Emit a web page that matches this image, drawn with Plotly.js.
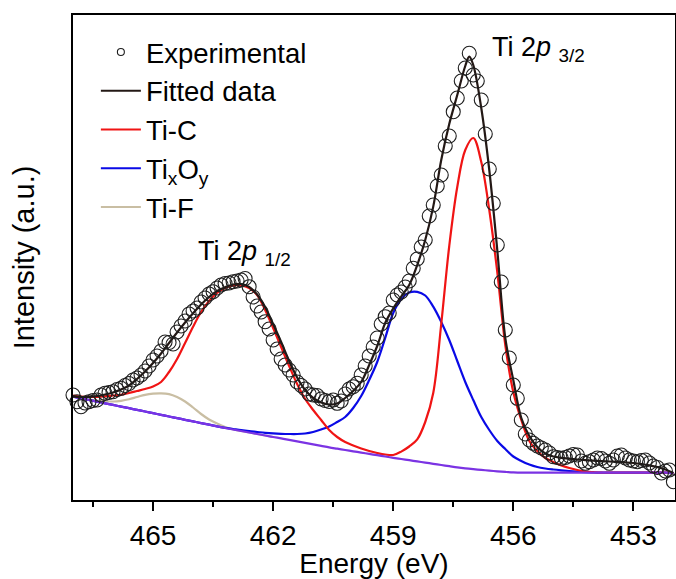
<!DOCTYPE html>
<html>
<head>
<meta charset="utf-8">
<script src="https://cdn.plot.ly/plotly-3.0.1.min.js"></script>
<style>html,body{margin:0;padding:0;background:#fff;}#chart{width:676px;height:579px;}</style>
</head>
<body>
<div id="chart"></div>
<script>
// Binding energy grid for fitted components (eV)
const energy = [467.0,466.8,466.6,466.4,466.2,466.0,465.8,465.6,465.4,465.2,
465.0,464.8,464.6,464.4,464.2,464.0,463.8,463.6,463.4,463.2,
463.0,462.8,462.6,462.4,462.2,462.0,461.8,461.6,461.4,461.2,
461.0,460.8,460.6,460.4,460.2,460.0,459.8,459.6,459.4,459.2,
459.0,458.8,458.6,458.4,458.2,458.0,457.8,457.6,457.4,457.2,
457.0,456.8,456.6,456.4,456.2,456.0,455.8,455.6,455.4,455.2,
455.0,454.8,454.6,454.4,454.2,454.0,453.8,453.6,453.4,453.2,
453.0,452.8,452.6,452.4,452.2,452.0];

// Shirley-type background (a.u.)
const background = [103.3,101.6,100.0,98.4,96.7,95.1,93.4,91.8,90.1,88.5,
86.8,85.2,83.5,81.9,80.2,78.6,76.9,75.3,73.6,72.0,
70.5,69.0,67.5,66.0,64.5,63.0,61.6,60.1,58.6,57.1,
55.6,54.1,52.6,51.3,50.0,48.7,47.4,46.1,44.8,43.5,
42.2,41.0,39.8,38.6,37.4,36.2,35.0,33.8,32.6,31.6,
30.8,30.1,29.4,28.7,28.1,27.6,27.3,27.3,27.3,27.3,
27.3,27.3,27.3,27.3,27.3,27.3,27.3,27.3,27.3,27.3,
27.3,27.3,27.3,27.3,27.3,26.8];

// Ti-C component (incl. background)
const tiC = [104.5,103.5,103.2,103.2,103.7,104.5,105.2,107.0,109.0,111.0,
113.5,118,128,141,157,173.3,188,199,207,212,
214.5,214.7,212,205,190,172,153,134,116,101,
90,80,70,63,58,54.5,51.5,49,47,45.5,
45,48.4,53.5,60.6,78,107,176,254,313,350,
362,338,290,228,155,108,80,59,49,42,
38,34.5,32,30,28.5,27.8,27.3,27.3,27.3,27.3,
27.3,27.3,27.3,27.3,27.3,26.8];

// TixOy component (incl. background)
const tixOy = [103.3,101.6,100.0,98.4,96.7,95.1,93.4,91.8,90.1,88.5,
86.8,85.2,83.5,81.9,80.2,78.6,76.9,75.3,73.6,72.2,
71.0,69.8,68.8,68.0,67.2,66.6,66.2,66.0,66.0,66.5,
68.0,70.5,73.5,78,83,92,104,120,138,162,
187,201,207.5,208.2,204.5,193.3,178,160,139,118,
100,83,70,59,51,43.5,39,35.5,33,31.5,
30.5,29.7,29,28.4,27.9,27.5,27.3,27.3,27.3,27.3,
27.3,27.3,27.3,27.3,27.3,26.8];

// Ti-F component (incl. background)
const tiFEnergy = [467.0,466.8,466.6,466.4,466.2,466.0,465.8,465.6,465.4,465.2,
465.0,464.8,464.6,464.4,464.2,464.0,463.8,463.6,463.4,463.2,
463.0,462.8,462.6,462.4,462.2,462.0];
const tiF = [103.3,101.8,100.4,99.4,98.7,98.5,99.2,100.7,103,105.2,
106.4,106.7,105.9,103,98.5,92.5,86,80.5,76.4,73,
70.6,69.0,67.5,66.0,64.5,63.0];

// Fitted envelope
const fitEnergy = [467.0,466.8,466.6,466.4,466.2,466.0,465.8,465.6,465.4,465.2,
465.0,464.8,464.6,464.4,464.2,464.0,463.8,463.6,463.4,463.2,
463.0,462.8,462.6,462.4,462.2,462.0,461.8,461.6,461.4,461.2,
461.0,460.8,460.6,460.4,460.2,460.0,459.8,459.6,459.4,459.2,
459.0,458.8,458.6,458.4,458.2,458.0,457.8,457.6,457.4,457.2,457.1,
457.0,456.8,456.6,456.4,456.2,456.0,455.8,455.6,455.4,455.2,
455.0,454.8,454.6,454.4,454.2,454.0,453.8,453.6,453.4,453.2,
453.0,452.8,452.6,452.4,452.2,452.0];
const fitted = [103.3,103.0,103.2,104.0,105.5,107.5,110.5,114.5,121.0,128.5,
137.0,146.5,157,167.5,177.5,186.7,195.5,203,209,212.8,
215.5,216.0,213,205.5,193,176,158,139,122.5,110,
102,97.5,95.5,96.5,102,109,118,135,154,177,
191.5,203.5,215,235,260,293.4,340,376,405,434,443.3,
435,392,330,250,162,120,82,64,53,46.5,
43.5,42.2,41.4,40.5,39.8,39.3,38.9,38.5,38.1,37.6,
37.0,36.0,34.7,33.0,30.5,27.0];

// Experimental data (0.1 eV steps)
const expEnergy = [467.0,466.9,466.8,466.7,466.6,466.5,466.4,466.3,466.2,466.1,
466.0,465.9,465.8,465.7,465.6,465.5,465.4,465.3,465.2,465.1,
465.0,464.9,464.8,464.7,464.6,464.5,464.4,464.3,464.2,464.1,
464.0,463.9,463.8,463.7,463.6,463.5,463.4,463.3,463.2,463.1,
463.0,462.9,462.8,462.7,462.6,462.5,462.4,462.3,462.2,462.1,
462.0,461.9,461.8,461.7,461.6,461.5,461.4,461.3,461.2,461.1,
461.0,460.9,460.8,460.7,460.6,460.5,460.4,460.3,460.2,460.1,
460.0,459.9,459.8,459.7,459.6,459.5,459.4,459.3,459.2,459.1,
459.0,458.9,458.8,458.7,458.6,458.5,458.4,458.3,458.2,458.1,
458.0,457.9,457.8,457.7,457.6,457.5,457.4,457.3,457.2,457.1,
457.0,456.9,456.8,456.7,456.6,456.5,456.4,456.3,456.2,456.1,
456.0,455.9,455.8,455.7,455.6,455.5,455.4,455.3,455.2,455.1,
455.0,454.9,454.8,454.7,454.6,454.5,454.4,454.3,454.2,454.1,
454.0,453.9,453.8,453.7,453.6,453.5,453.4,453.3,453.2,453.1,
453.0,452.9,452.8,452.7,452.6,452.5,452.4,452.3,452.2,452.1,
452.0];
const experimental = [105,98.3,93.3,97,98.3,99.5,100,105,106.7,107.5,
108.3,110.5,111.7,114.5,116.5,120,122,125,129,134,
140,144,149,158,157.5,156,168,174,179,186,
189,192,198,202,206,208.3,212,215,216.5,217,
218.3,219,220,221.5,213.3,203,194,188,178.3,171,
160,151,141,135,130,125,118,114.5,111,106,
105,104.5,101,99.5,98.5,100,96.7,99,106,111,
113.3,116.7,125,134,144,153,162,176,183.3,187,
200,205,208,213,219,231.7,241,253,260,284,
295,314,325,354,364,388.3,402,419,432,446.7,
425,419,400,366,331,296.7,255,218,170,142,
115,101.7,80,66,60,56.7,54,52,50,47,
43.3,42.5,41.7,42.5,44,45.5,45,39,36.7,38.3,
40,42,41.5,39,36.7,40,44,45,42,40,
39,38.3,39.5,40,37,34,32.5,27,29,30,
18.3];

const FONT = "Arial, 'Liberation Sans', Helvetica, sans-serif";

const traces = [
  {x: tiFEnergy, y: tiF, type: 'scatter', mode: 'lines', name: 'Ti-F',
   line: {color: '#c9bea3', width: 2.2, shape: 'spline'}, legendrank: 5},
  {x: energy, y: tixOy, type: 'scatter', mode: 'lines', name: 'Ti<sub>x</sub>O<sub>y</sub>',
   line: {color: '#0a0ae6', width: 2.2, shape: 'spline'}, legendrank: 4},
  {x: energy, y: tiC, type: 'scatter', mode: 'lines', name: 'Ti-C',
   line: {color: '#f01414', width: 2.2, shape: 'spline'}, legendrank: 3},
  {x: energy, y: background, type: 'scatter', mode: 'lines', name: 'Background',
   line: {color: '#7b33e3', width: 2.2, shape: 'spline'}, showlegend: false},
  {x: fitEnergy, y: fitted, type: 'scatter', mode: 'lines', name: 'Fitted data',
   line: {color: '#231815', width: 2.2, shape: 'spline'}, legendrank: 2},
  {x: expEnergy, y: experimental, type: 'scatter', mode: 'markers', name: 'Experimental',
   marker: {symbol: 'circle-open', size: 14, color: '#1e1e1e', line: {width: 1.1, color: '#1e1e1e'}},
   cliponaxis: false, showlegend: false},
  {x: [null], y: [null], type: 'scatter', mode: 'markers', name: 'Experimental',
   marker: {symbol: 'circle-open', size: 7, color: '#1e1e1e', line: {width: 1.1, color: '#1e1e1e'}},
   legendrank: 1}
];

const layout = {
  width: 676, height: 579,
  margin: {l: 73, r: 1, t: 15, b: 79},
  paper_bgcolor: '#ffffff', plot_bgcolor: '#ffffff',
  font: {family: FONT, color: '#000', size: 27},
  showlegend: true,
  legend: {x: 0.038, y: 0.974, xanchor: 'left', yanchor: 'top', itemwidth: 40,
           font: {family: FONT, size: 27.5, color: '#000'}, bgcolor: 'rgba(0,0,0,0)',
           tracegroupgap: 0, traceorder: 'normal'},
  xaxis: {
    range: [467.0, 451.96], showgrid: false, zeroline: false,
    showline: true, linecolor: '#000', linewidth: 2, mirror: true,
    ticks: 'outside', tick0: 453, dtick: 3, ticklen: 9, tickwidth: 2, tickcolor: '#000',
    minor: {tick0: 453, dtick: 1.5, ticks: 'outside', ticklen: 5, tickwidth: 2, tickcolor: '#000', showgrid: false},
    tickfont: {family: FONT, size: 28, color: '#000'},
    title: {text: 'Energy (eV)', font: {family: FONT, size: 28, color: '#000'}, standoff: 0}
  },
  yaxis: {
    range: [0, 485], showgrid: false, zeroline: false,
    showline: true, linecolor: '#000', linewidth: 2, mirror: true,
    ticks: '', showticklabels: false,
    title: {text: 'Intensity (a.u.)', font: {family: FONT, size: 29, color: '#000'}, standoff: 28}
  },
  annotations: [
    {x: 456.58, y: 451, xref: 'x', yref: 'y', xanchor: 'left', yanchor: 'middle', showarrow: false,
     text: 'Ti 2<i>p</i> <sub>3/2</sub>', font: {family: FONT, size: 27, color: '#000'}},
    {x: 463.93, y: 247, xref: 'x', yref: 'y', xanchor: 'left', yanchor: 'middle', showarrow: false,
     text: 'Ti 2<i>p</i> <sub>1/2</sub>', font: {family: FONT, size: 27, color: '#000'}}
  ]
};

Plotly.newPlot('chart', traces, layout, {displayModeBar: false, staticPlot: true});
</script>
</body>
</html>
